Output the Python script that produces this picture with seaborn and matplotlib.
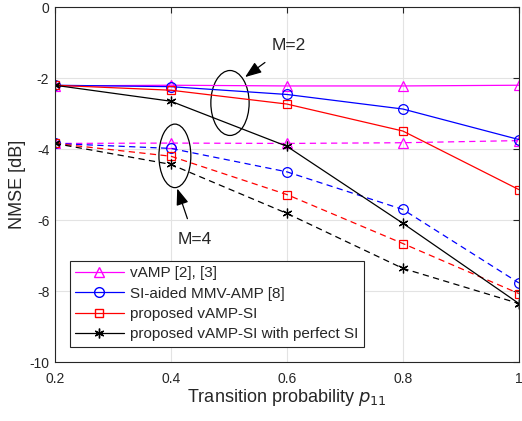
import numpy as np
import pandas as pd
import matplotlib
matplotlib.use('Agg')
import matplotlib.pyplot as plt
import seaborn as sns
from matplotlib.patches import Ellipse
from matplotlib.lines import Line2D

# data
p11 = [0.2, 0.4, 0.6, 0.8, 1.0]

# M=2 (solid)
vamp_m2 = [-2.22, -2.2, -2.22, -2.22, -2.2]
si_mmv_m2 = [-2.2, -2.24, -2.46, -2.87, -3.73]
prop_m2 = [-2.2, -2.34, -2.73, -3.49, -5.14]
perfect_m2 = [-2.2, -2.65, -3.92, -6.09, -8.35]

# M=4 (dashed)
vamp_m4 = [-3.84, -3.83, -3.84, -3.82, -3.76]
si_mmv_m4 = [-3.84, -3.98, -4.64, -5.7, -7.77]
prop_m4 = [-3.84, -4.2, -5.28, -6.66, -8.07]
perfect_m4 = [-3.84, -4.43, -5.81, -7.36, -8.35]

labels = ['vAMP [2], [3]', 'SI-aided MMV-AMP [8]', 'proposed vAMP-SI',
          'proposed vAMP-SI with perfect SI']
colors = ['#ff00ff', '#0000ff', '#ff0000', '#000000']
markers = ['^', 'o', 's', (6, 2, 0)]
msizes = [7, 7, 6, 7]

rows = []
for lab, m2, m4 in zip(labels, [vamp_m2, si_mmv_m2, prop_m2, perfect_m2],
                       [vamp_m4, si_mmv_m4, prop_m4, perfect_m4]):
    for x, a, b in zip(p11, m2, m4):
        rows.append({'p': x, 'nmse': a, 'alg': lab, 'M': 2})
        rows.append({'p': x, 'nmse': b, 'alg': lab, 'M': 4})
df = pd.DataFrame(rows)

sns.set_style('whitegrid')
plt.rcParams['font.family'] = ['Liberation Sans', 'DejaVu Sans']

fig = plt.figure(figsize=(5.22, 4.21), dpi=100)
ax = fig.add_axes([0.105, 0.140, 0.889, 0.843])

for lab, c, mk, ms in zip(labels, colors, markers, msizes):
    for M, ls in [(2, '-'), (4, (0, (5, 3.5)))]:
        sub = df[(df.alg == lab) & (df.M == M)]
        sns.lineplot(data=sub, x='p', y='nmse', ax=ax, color=c, marker=mk,
                     markersize=ms, markerfacecolor='none', markeredgecolor=c,
                     markeredgewidth=0.9, linewidth=0.9, linestyle=ls,
                     legend=False)

ax.set_xlim(0.2, 1.0)
ax.set_ylim(-10, 0)
ax.set_xticks([0.2, 0.4, 0.6, 0.8, 1.0])
ax.set_xticklabels(['0.2', '0.4', '0.6', '0.8', '1'])
ax.set_yticks([0, -2, -4, -6, -8, -10])
ax.set_yticklabels(['0', '-2', '-4', '-6', '-8', '-10'])
ax.tick_params(direction='in', length=4, width=0.8, colors='#262626',
               labelsize=10, top=True, right=True)
ax.tick_params(axis='x', pad=7)
ax.tick_params(axis='y', pad=4)
ax.grid(True, color='#e3e3e3', linewidth=0.8)
for s in ax.spines.values():
    s.set_color('#262626')
    s.set_linewidth(0.8)

ax.set_xlabel(r'Transition probability $p_{11}$', fontsize=13, color='#262626',
              labelpad=1)
ax.set_ylabel('NMSE [dB]', fontsize=13, color='#262626', labelpad=2)

# annotations
ax.add_patch(Ellipse((0.502, -2.70), 0.066, 1.83, fill=False, edgecolor='k', lw=0.9))
ax.add_patch(Ellipse((0.407, -4.19), 0.055, 1.79, fill=False, edgecolor='k', lw=0.9))
ax.annotate('M=2', xy=(0.528, -1.97), xytext=(0.603, -1.07), fontsize=12.5,
            ha='center', va='center', color='#262626',
            arrowprops=dict(arrowstyle='-|>,head_length=0.8,head_width=0.3',
                            color='k', lw=0.9, shrinkA=8, shrinkB=0))
ax.annotate('M=4', xy=(0.411, -5.11), xytext=(0.441, -6.56), fontsize=12.5,
            ha='center', va='center', color='#262626',
            arrowprops=dict(arrowstyle='-|>,head_length=0.8,head_width=0.3',
                            color='k', lw=0.9, shrinkA=8, shrinkB=0))

handles = [Line2D([], [], color=c, marker=mk, markersize=ms, markerfacecolor='none',
                  markeredgecolor=c, lw=0.9) for c, mk, ms in zip(colors, markers, msizes)]
leg = ax.legend(handles, labels, loc='lower left', bbox_to_anchor=(0.032, 0.043),
                borderaxespad=0, fontsize=11, fancybox=False, framealpha=1,
                edgecolor='#262626', handlelength=3.2, handletextpad=0.4,
                labelspacing=0.42, borderpad=0.35)
leg.get_frame().set_linewidth(0.8)

fig.savefig('out.png', dpi=100)
